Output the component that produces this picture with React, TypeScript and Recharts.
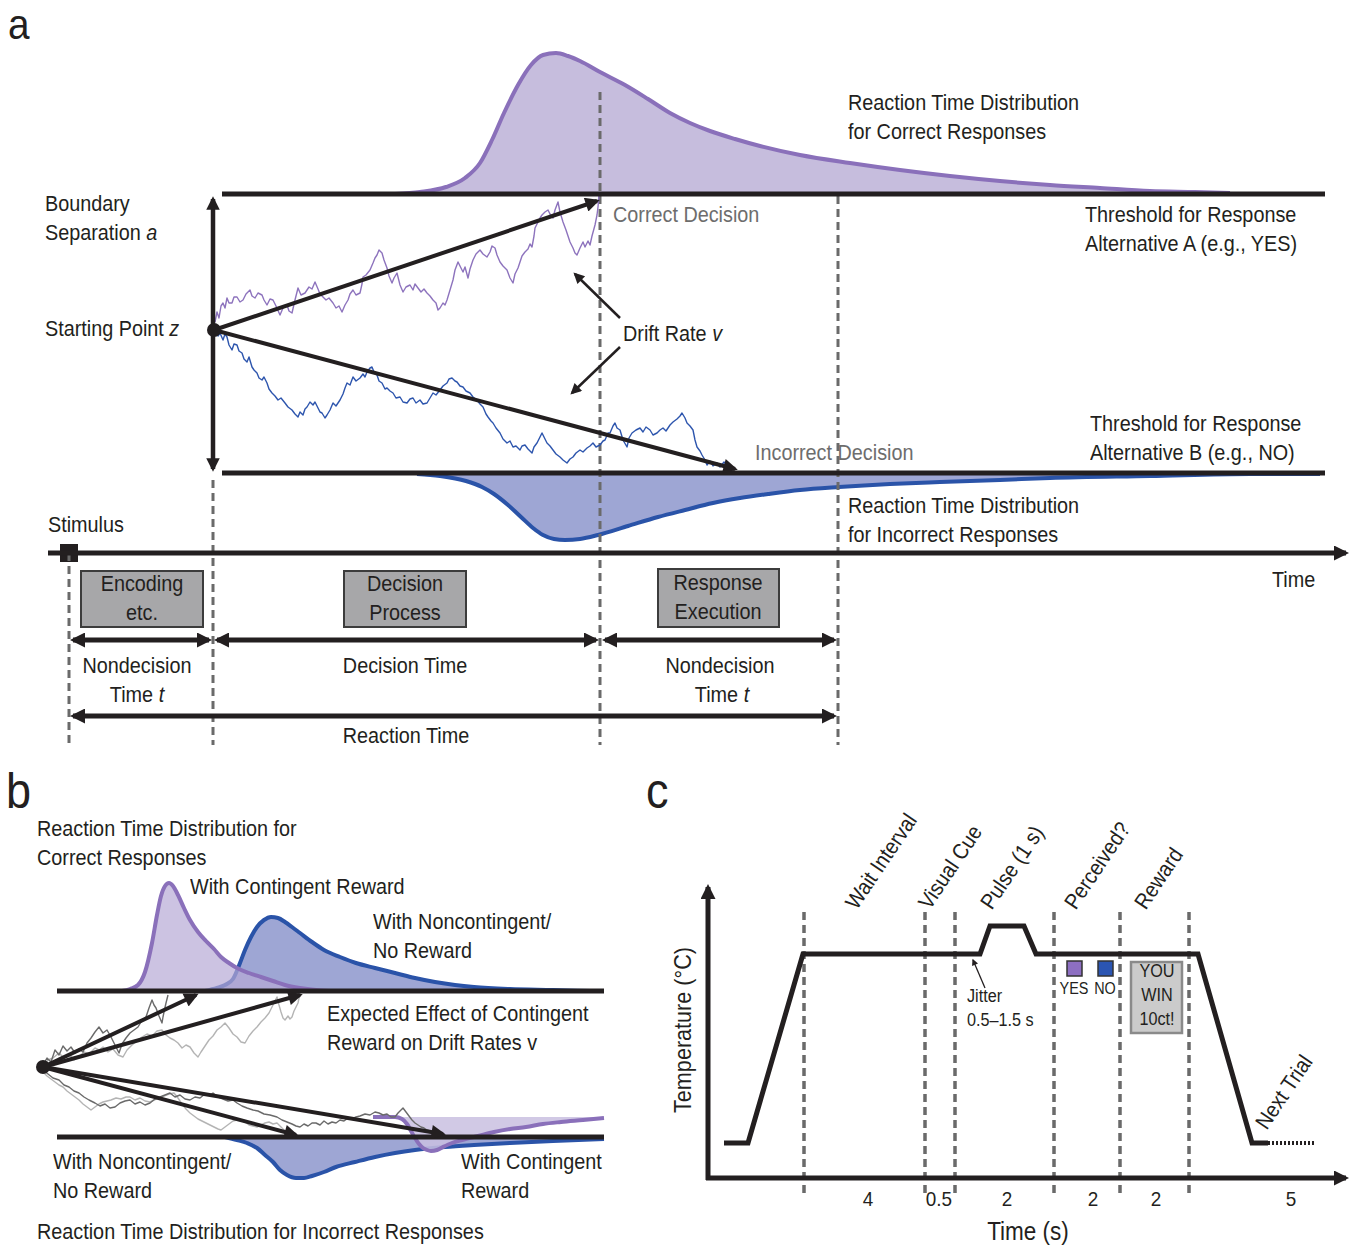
import React from 'react'
import { Area, ComposedChart, Line, ReferenceArea, ReferenceDot, XAxis, YAxis } from 'recharts'

type Pt = { x: number; y: number }
const pts = (rows: number[][]): Pt[] => rows.map(([x, y]) => ({ x, y }))

// ---- panel a: drift diffusion model ----
const upperThresholdA = pts([[222, 194], [1325, 194]])
const lowerThresholdA = pts([[222, 473], [1325, 473]])
const boundaryA = pts([[213, 199], [213, 469]])
const driftUpA = pts([[214, 330], [597, 201]])
const driftDownA = pts([[214, 330], [735, 469]])
const pointerUpA = pts([[620, 318], [575, 274]])
const pointerDownA = pts([[620, 347], [572, 393]])
const timelineA = pts([[48, 553], [1346, 553]])
const phaseLinesA = [
  pts([[69, 553], [69, 745]]),
  pts([[213, 480], [213, 745]]),
  pts([[600, 92], [600, 745]]),
  pts([[838, 196], [838, 745]]),
]
const spansA = [
  pts([[73, 640], [209, 640]]),
  pts([[217, 640], [596, 640]]),
  pts([[605, 640], [834, 640]]),
  pts([[73, 716], [834, 716]]),
]
const stagesA = [
  { x1: 81, x2: 203, y1: 571, y2: 627 },
  { x1: 344, x2: 466, y1: 571, y2: 627 },
  { x1: 658, x2: 779, y1: 569, y2: 627 },
]
const stimulusA = { x1: 60, x2: 78, y1: 544, y2: 562 }
const startA = { x: 214, y: 330 }

const correctRtA = pts([
  [395, 194], [420, 192], [446, 187], [465, 178], [480, 163], [492, 140], [504, 113], [518, 85],
  [531, 65], [543, 55], [556, 53], [568, 56], [580, 61], [600, 72], [625, 85], [648, 99],
  [670, 113], [690, 123], [710, 131], [735, 139], [760, 146], [800, 155], [850, 163], [900, 170],
  [950, 176], [1000, 181], [1050, 185], [1100, 188], [1150, 191], [1195, 192], [1230, 193],
])
const incorrectRtA = pts([
  [417, 474], [440, 476], [466, 481], [482, 487], [494, 494], [508, 505], [521, 517], [533, 528],
  [543, 535], [554, 539], [565, 540], [580, 539], [598, 535], [628, 526], [658, 517], [685, 510],
  [713, 503], [740, 498], [768, 494], [800, 490], [839, 487], [890, 484], [940, 482], [1000, 480],
  [1050, 478], [1150, 476], [1250, 474], [1320, 474],
])

const purpleWalkA = pts([
  [215, 322], [217, 312], [219, 318], [221, 306], [223, 303], [225, 308], [227, 298], [229, 303],
  [232, 303], [234, 297], [237, 297], [240, 302], [243, 300], [246, 294], [250, 290], [252, 296],
  [255, 298], [258, 293], [262, 295], [264, 300], [267, 305], [270, 299], [273, 300], [276, 306],
  [280, 315], [283, 308], [287, 305], [289, 311], [292, 313], [295, 300], [298, 288], [301, 295],
  [305, 293], [309, 287], [312, 289], [315, 282], [318, 289], [320, 294], [323, 297], [326, 300],
  [329, 298], [333, 303], [336, 308], [339, 306], [342, 312], [345, 305], [348, 300], [350, 294],
  [353, 290], [356, 295], [360, 293], [362, 284], [363, 277], [366, 275], [370, 270], [373, 263],
  [375, 258], [377, 255], [379, 250], [382, 253], [384, 260], [387, 268], [389, 276], [392, 283],
  [394, 278], [397, 273], [400, 285], [403, 292], [406, 287], [410, 285], [413, 290], [415, 284],
  [418, 288], [421, 292], [424, 289], [427, 293], [430, 296], [433, 300], [436, 303], [438, 310],
  [440, 308], [443, 303], [445, 305], [447, 300], [450, 290], [453, 280], [455, 270], [458, 262],
  [460, 266], [463, 272], [465, 267], [468, 278], [470, 269], [473, 260], [476, 254], [480, 250],
  [483, 254], [487, 257], [490, 252], [492, 246], [495, 248], [497, 255], [500, 262], [503, 266],
  [507, 270], [510, 278], [513, 283], [515, 274], [518, 268], [520, 262], [522, 256], [525, 252],
  [528, 249], [530, 244], [532, 247], [534, 236], [535, 228], [538, 222], [540, 218], [542, 215],
  [545, 212], [548, 210], [550, 214], [553, 218], [555, 210], [558, 202], [560, 212], [563, 222],
  [566, 230], [568, 236], [570, 242], [573, 248], [575, 253], [577, 255], [580, 248], [583, 242],
  [585, 247], [588, 241], [590, 245], [592, 236], [595, 225], [597, 215], [598, 207], [599, 195],
])
const blueWalkA = pts([
  [213, 337], [216, 331], [218, 336], [220, 333], [223, 340], [225, 334], [227, 337], [229, 345],
  [232, 350], [234, 344], [237, 345], [239, 351], [242, 353], [244, 359], [247, 362], [249, 357],
  [252, 367], [254, 370], [257, 373], [259, 378], [262, 380], [264, 377], [267, 383], [269, 389],
  [272, 393], [275, 396], [278, 400], [281, 398], [285, 403], [288, 407], [292, 410], [295, 414],
  [298, 417], [300, 412], [303, 415], [305, 409], [307, 407], [310, 402], [313, 405], [315, 402],
  [318, 408], [320, 412], [322, 413], [325, 418], [327, 415], [330, 410], [333, 403], [336, 406],
  [340, 400], [343, 394], [345, 388], [347, 383], [350, 385], [353, 377], [356, 381], [360, 378],
  [363, 374], [365, 377], [367, 372], [370, 368], [372, 367], [374, 372], [377, 375], [379, 381],
  [382, 383], [385, 389], [387, 388], [390, 391], [393, 393], [396, 398], [400, 397], [403, 402],
  [407, 403], [410, 399], [413, 398], [416, 403], [420, 400], [423, 404], [427, 403], [430, 398],
  [433, 393], [436, 395], [440, 390], [443, 386], [447, 383], [449, 379], [452, 378], [455, 381],
  [457, 382], [460, 386], [463, 387], [466, 391], [470, 393], [473, 397], [477, 400], [480, 404],
  [483, 407], [486, 414], [488, 417], [491, 421], [493, 423], [496, 428], [500, 433], [503, 439],
  [507, 443], [510, 441], [513, 447], [516, 446], [520, 450], [522, 446], [525, 445], [528, 449],
  [532, 453], [534, 447], [537, 443], [540, 437], [542, 433], [544, 437], [547, 443], [550, 446],
  [553, 450], [556, 454], [560, 457], [563, 460], [567, 463], [570, 459], [573, 457], [576, 453],
  [580, 450], [583, 452], [587, 448], [590, 446], [593, 443], [596, 447], [600, 445], [603, 441],
  [605, 440], [608, 433], [610, 433], [613, 426], [615, 423], [617, 428], [620, 430], [623, 440],
  [627, 447], [629, 438], [632, 433], [636, 430], [640, 428], [643, 432], [646, 427], [650, 430],
  [653, 435], [657, 433], [660, 430], [663, 428], [666, 431], [670, 425], [673, 422], [677, 419],
  [680, 416], [682, 413], [685, 418], [687, 423], [690, 426], [693, 430], [695, 440], [697, 447],
  [700, 451], [702, 455], [705, 460], [707, 465], [710, 461], [713, 466], [717, 463], [720, 467],
  [724, 462], [727, 465], [730, 468], [733, 470],
])

// ---- panel b: expected effect of contingent reward ----
const upperThresholdB = pts([[57, 991], [604, 991]])
const lowerThresholdB = pts([[57, 1137], [604, 1137]])
const startB = { x: 43, y: 1067 }
const driftsB = [
  pts([[43, 1067], [196, 995]]),
  pts([[43, 1067], [300, 995]]),
  pts([[43, 1067], [296, 1135]]),
  pts([[43, 1067], [443, 1134]]),
]
const contingentCorrectB = pts([
  [122, 991], [130, 989], [138, 985], [145, 972], [152, 943], [157, 915], [161, 896], [165, 886],
  [169, 883], [173, 886], [178, 895], [184, 908], [190, 920], [198, 932], [206, 941], [214, 949],
  [221, 957], [229, 963], [237, 968], [249, 973], [261, 977], [273, 981], [285, 985], [300, 988],
  [316, 990], [330, 991],
])
const noncontingentCorrectB = pts([
  [205, 991], [217, 988], [225, 985], [233, 979], [240, 963], [245, 950], [251, 937], [257, 927],
  [264, 920], [271, 917], [278, 918], [285, 922], [292, 927], [300, 933], [312, 942], [324, 950],
  [340, 957], [356, 963], [375, 968], [395, 973], [415, 978], [435, 982], [455, 985], [474, 987],
  [510, 989], [553, 990], [590, 991],
])
const noncontingentErrorB = pts([
  [225, 1137], [237, 1140], [247, 1143], [257, 1148], [265, 1155], [273, 1162], [280, 1170],
  [287, 1175], [296, 1178], [304, 1178], [312, 1176], [324, 1172], [336, 1167], [355, 1162],
  [375, 1157], [395, 1153], [415, 1150], [445, 1147], [474, 1145], [510, 1143], [553, 1141],
  [604, 1139],
])
const contingentErrorB = pts([
  [373, 1117], [385, 1117], [395, 1117], [402, 1119], [407, 1124], [411, 1131], [415, 1138],
  [419, 1144], [423, 1148], [427, 1150], [431, 1151], [437, 1150], [443, 1147], [452, 1143],
  [462, 1140], [478, 1136], [494, 1132], [510, 1129], [526, 1127], [543, 1124], [561, 1122],
  [583, 1120], [604, 1118],
])
const darkUpWalkB = pts([
  [43, 1065], [47, 1058], [51, 1062], [55, 1050], [59, 1055], [63, 1046], [67, 1051], [71, 1047],
  [75, 1053], [79, 1049], [83, 1052], [87, 1043], [91, 1038], [95, 1032], [99, 1027], [103, 1033],
  [107, 1030], [111, 1037], [115, 1045], [119, 1053], [122, 1044], [126, 1038], [130, 1033],
  [134, 1030], [138, 1027], [141, 1022], [144, 1019], [146, 1017], [149, 1008], [152, 1000],
  [154, 1005], [156, 1008], [159, 1016], [162, 1023], [163, 1017], [164, 1012], [166, 1003],
  [168, 995],
])
const lightUpWalkB = pts([
  [43, 1067], [48, 1060], [53, 1058], [59, 1053], [64, 1058], [69, 1054], [74, 1060], [79, 1057],
  [84, 1052], [89, 1054], [95, 1048], [99, 1050], [103, 1047], [108, 1052], [113, 1049], [118, 1055],
  [123, 1057], [127, 1050], [132, 1045], [137, 1041], [142, 1037], [147, 1034], [152, 1036],
  [157, 1031], [162, 1030], [166, 1035], [170, 1038], [174, 1040], [178, 1043], [182, 1048],
  [186, 1045], [190, 1047], [194, 1053], [198, 1057], [201, 1052], [205, 1046], [209, 1040],
  [213, 1036], [217, 1030], [221, 1027], [225, 1023], [229, 1028], [233, 1034], [237, 1037],
  [241, 1042], [245, 1043], [249, 1036], [253, 1031], [257, 1027], [261, 1022], [265, 1018],
  [269, 1013], [272, 1007], [275, 1001], [277, 997], [279, 1005], [281, 1012], [283, 1018],
  [285, 1020], [288, 1016], [290, 1019], [292, 1017], [294, 1011], [296, 1007], [298, 1003],
  [299, 998], [300, 993],
])
const darkDownWalkB = pts([
  [43, 1070], [48, 1074], [53, 1078], [59, 1080], [64, 1085], [69, 1087], [74, 1091], [79, 1093],
  [84, 1097], [89, 1100], [95, 1103], [100, 1106], [105, 1104], [110, 1108], [115, 1107],
  [120, 1103], [125, 1101], [130, 1100], [135, 1104], [140, 1102], [145, 1105], [150, 1103],
  [155, 1099], [160, 1097], [165, 1095], [170, 1093], [175, 1097], [180, 1095], [185, 1099],
  [190, 1100], [195, 1097], [200, 1098], [205, 1094], [210, 1095], [213, 1093], [218, 1097],
  [223, 1099], [228, 1101], [233, 1100], [237, 1103], [242, 1106], [247, 1108], [253, 1110],
  [258, 1111], [264, 1114], [270, 1115], [277, 1117], [282, 1120], [287, 1122], [292, 1124],
  [296, 1126], [300, 1127], [304, 1124], [308, 1126], [312, 1123], [316, 1123], [320, 1125],
  [324, 1121], [328, 1124], [332, 1122], [336, 1123], [340, 1120], [344, 1121], [348, 1118],
  [352, 1119], [356, 1117], [360, 1116], [365, 1114], [370, 1115], [375, 1112], [379, 1113],
  [383, 1115], [387, 1114], [391, 1117], [395, 1117], [398, 1113], [401, 1110], [403, 1108],
  [406, 1112], [409, 1116], [412, 1120], [415, 1123], [418, 1125], [421, 1127], [424, 1128],
  [427, 1130], [430, 1131], [433, 1133], [436, 1134], [439, 1135],
])
const lightDownWalkB = pts([
  [43, 1072], [47, 1076], [51, 1079], [55, 1082], [59, 1085], [63, 1087], [67, 1091], [71, 1094],
  [75, 1097], [79, 1100], [83, 1104], [87, 1107], [91, 1110], [95, 1107], [99, 1104], [103, 1102],
  [107, 1101], [111, 1100], [116, 1098], [121, 1099], [126, 1097], [130, 1097], [135, 1100],
  [140, 1098], [145, 1101], [150, 1102], [154, 1100], [159, 1098], [164, 1096], [169, 1094],
  [174, 1093], [178, 1098], [182, 1104], [186, 1109], [190, 1113], [194, 1116], [198, 1119],
  [202, 1121], [206, 1123], [210, 1125], [214, 1127], [218, 1129], [221, 1130], [225, 1127],
  [229, 1124], [233, 1121], [237, 1120], [241, 1120], [245, 1122], [249, 1125], [253, 1126],
  [257, 1127], [261, 1125], [265, 1123], [269, 1122], [273, 1124], [277, 1123], [280, 1126],
  [283, 1129], [286, 1132], [289, 1135], [292, 1137],
])

// ---- panel c: trial timeline ----
const axisYC = pts([[708, 1180], [708, 887]])
const axisXC = pts([[706, 1178], [1346, 1178]])
const temperatureC = pts([
  [724, 1143], [748, 1143], [803, 954], [980, 954], [990, 926], [1024, 926], [1036, 954],
  [1198, 954], [1252, 1143], [1268, 1143],
])
const nextTrialC = pts([[1268, 1143], [1316, 1143]])
const phaseEdgesC = [804, 925, 955, 1054, 1120, 1189]
const jitterC = pts([[985, 988], [973, 960]])
const yesKeyC = { x1: 1067, x2: 1082, y1: 961, y2: 976 }
const noKeyC = { x1: 1098, x2: 1113, y1: 961, y2: 976 }
const rewardBoxC = { x1: 1131, x2: 1182, y1: 962, y2: 1033 }
const durationLabels = ['4', '0.5', '2', '2', '2', '5']
const durationAt = [868, 939, 1007, 1093, 1156, 1291]
const phaseLabels = ['Wait Interval', 'Visual Cue', 'Pulse (1 s)', 'Perceived?', 'Reward']
const phaseLabelAt = [862, 935, 997, 1081, 1151]

const INK = '#231f20'
const PURPLE = '#8a70ba'
const PURPLE_FILL = '#c6bddd'
const BLUE = '#2a53a8'
const BLUE_FILL = '#9ea6d4'
const DASH = '#6a6a6a'
const FONT = "'Liberation Sans',Arial,Helvetica,sans-serif"
const SX = 0.9 // the figure uses a condensed grotesque

function Txt({
  x, y, size = 22, center = false, color = INK, children,
}: {
  x: number; y: number; size?: number; center?: boolean; color?: string
  children: React.ReactNode
}) {
  return (
    <div
      style={{
        position: 'absolute', left: x, top: y - size * 0.6, fontSize: size,
        lineHeight: `${size * 1.2}px`, color, fontFamily: FONT, whiteSpace: 'nowrap',
        transformOrigin: center ? '50% 50%' : '0 50%',
        transform: center ? `translateX(-50%) scaleX(${SX})` : `scaleX(${SX})`,
      }}
    >
      {children}
    </div>
  )
}

function Tilt({ x, y, size = 22, children }: { x: number; y: number; size?: number; children: React.ReactNode }) {
  return (
    <div
      style={{
        position: 'absolute', left: x, top: y - size * 1.2, fontSize: size,
        lineHeight: `${size * 1.2}px`, color: INK, fontFamily: FONT, whiteSpace: 'nowrap',
        transformOrigin: '0 100%', transform: `rotate(-56deg) scaleX(${SX})`,
      }}
    >
      {children}
    </div>
  )
}

function PanelLetter({ x, top, size = 50, children }: { x: number; top: number; size?: number; children: React.ReactNode }) {
  return (
    <div
      style={{
        position: 'absolute', left: x, top, fontSize: size, lineHeight: '40px', color: INK,
        fontFamily: FONT, transformOrigin: '0 50%', transform: `scaleX(${SX})`,
      }}
    >
      {children}
    </div>
  )
}

const I = ({ children }: { children: React.ReactNode }) => <i>{children}</i>

export default function App() {
  const seg = (key: string, data: Pt[], width: number, extra: Record<string, unknown> = {}) => (
    <Line
      key={key}
      data={data}
      dataKey="y"
      type="linear"
      stroke={INK}
      strokeWidth={width}
      dot={false}
      activeDot={false}
      isAnimationActive={false}
      legendType="none"
      {...extra}
    />
  )
  const walk = (key: string, data: Pt[], color: string) =>
    seg(key, data, 1.4, { stroke: color, strokeLinejoin: 'round' })
  const dist = (key: string, data: Pt[], base: number, fill: string, stroke: string, fillOpacity = 1) => (
    <Area
      key={key}
      data={data}
      dataKey="y"
      type="monotone"
      baseValue={base}
      fill={fill}
      fillOpacity={fillOpacity}
      stroke={stroke}
      strokeWidth={4}
      dot={false}
      activeDot={false}
      isAnimationActive={false}
      legendType="none"
    />
  )
  const dashed = (key: string, data: Pt[], w = 3) =>
    seg(key, data, w, { stroke: DASH, strokeDasharray: '8 5' })

  return (
    <div style={{ position: 'relative', width: 1351, height: 1245, background: '#fff', overflow: 'hidden' }}>
      <style>{'body{margin:0}'}</style>
      <svg width={0} height={0} style={{ position: 'absolute' }}>
        <defs>
          <marker id="head" viewBox="0 0 10 10" refX="8" refY="5" markerWidth="3.6" markerHeight="3"
            orient="auto-start-reverse">
            <path d="M0,0 L10,5 L0,10 z" fill={INK} />
          </marker>
          <marker id="headDrift" viewBox="0 0 10 10" refX="8" refY="5" markerWidth="5.5" markerHeight="3.6"
            orient="auto-start-reverse">
            <path d="M0,0 L10,5 L0,10 z" fill={INK} />
          </marker>
          <marker id="headThin" viewBox="0 0 10 10" refX="8" refY="5" markerWidth="6" markerHeight="4.4"
            orient="auto-start-reverse">
            <path d="M0,0 L10,5 L0,10 z" fill={INK} />
          </marker>
          <marker id="headHair" viewBox="0 0 10 10" refX="8" refY="5" markerWidth="7" markerHeight="5"
            orient="auto-start-reverse">
            <path d="M0,0 L10,5 L0,10 z" fill={INK} />
          </marker>
        </defs>
      </svg>

      <ComposedChart
        width={1351}
        height={1245}
        margin={{ top: 0, right: 0, bottom: 0, left: 0 }}
        style={{ position: 'absolute', left: 0, top: 0 }}
      >
        <XAxis type="number" dataKey="x" domain={[0, 1351]} hide allowDataOverflow />
        <YAxis type="number" dataKey="y" domain={[0, 1245]} reversed hide allowDataOverflow />

        {/* panel a */}
        {dist('correctA', correctRtA, 194, PURPLE_FILL, PURPLE)}
        {dist('incorrectA', incorrectRtA, 473, BLUE_FILL, BLUE)}
        {phaseLinesA.map((d, i) => dashed(`phaseA${i}`, d))}
        {walk('purpleA', purpleWalkA, '#8d73bd')}
        {walk('blueA', blueWalkA, '#2d55ad')}
        {seg('upperA', upperThresholdA, 5)}
        {seg('lowerA', lowerThresholdA, 5)}
        {seg('boundA', boundaryA, 4.5, { markerStart: 'url(#head)', markerEnd: 'url(#head)' })}
        {seg('driftUpA', driftUpA, 4, { markerEnd: 'url(#headDrift)' })}
        {seg('driftDownA', driftDownA, 4, { markerEnd: 'url(#headDrift)' })}
        {seg('ptrUpA', pointerUpA, 2.5, { markerEnd: 'url(#headThin)' })}
        {seg('ptrDownA', pointerDownA, 2.5, { markerEnd: 'url(#headThin)' })}
        {seg('timeA', timelineA, 5, { markerEnd: 'url(#head)' })}
        {spansA.map((d, i) =>
          seg(`spanA${i}`, d, 5, { markerStart: 'url(#head)', markerEnd: 'url(#head)' }),
        )}
        {stagesA.map((b, i) => (
          <ReferenceArea key={`stage${i}`} {...b} fill="#a7a7a9" fillOpacity={1} stroke="#3c3c3c" strokeWidth={2} ifOverflow="visible" />
        ))}
        <ReferenceArea {...stimulusA} fill={INK} fillOpacity={1} stroke="none" ifOverflow="visible" />
        <ReferenceDot {...startA} r={7} fill={INK} stroke="none" ifOverflow="visible" />

        {/* panel b */}
        {dist('ncCorrectB', noncontingentCorrectB, 991, BLUE_FILL, BLUE)}
        {dist('cCorrectB', contingentCorrectB, 991, '#b7aad6', PURPLE, 0.7)}
        {dist('ncErrorB', noncontingentErrorB, 1137, BLUE_FILL, BLUE)}
        {dist('cErrorB', contingentErrorB, 1117, '#c9c0e0', PURPLE, 0.85)}
        {walk('lightUpB', lightUpWalkB, '#b4b4b4')}
        {walk('lightDownB', lightDownWalkB, '#b4b4b4')}
        {walk('darkUpB', darkUpWalkB, '#6a6a6a')}
        {walk('darkDownB', darkDownWalkB, '#6a6a6a')}
        {seg('upperB', upperThresholdB, 5)}
        {seg('lowerB', lowerThresholdB, 5)}
        {driftsB.map((d, i) => seg(`driftB${i}`, d, 4, { markerEnd: 'url(#headDrift)' }))}
        <ReferenceDot {...startB} r={7} fill={INK} stroke="none" ifOverflow="visible" />

        {/* panel c */}
        {phaseEdgesC.map((x) => dashed(`edge${x}`, pts([[x, 912], [x, 1195]]), 3.5))}
        {seg('axisY', axisYC, 5, { markerEnd: 'url(#head)' })}
        {seg('axisX', axisXC, 5, { markerEnd: 'url(#head)' })}
        {seg('temp', temperatureC, 5, { strokeLinejoin: 'miter' })}
        {seg('next', nextTrialC, 4, { strokeDasharray: '2 2' })}
        {seg('jitter', jitterC, 1.3, { markerEnd: 'url(#headHair)' })}
        <ReferenceArea {...yesKeyC} fill="#8d6fc2" fillOpacity={1} stroke="#333" strokeWidth={1.5} ifOverflow="visible" />
        <ReferenceArea {...noKeyC} fill="#2b55b2" fillOpacity={1} stroke="#333" strokeWidth={1.5} ifOverflow="visible" />
        <ReferenceArea {...rewardBoxC} fill="#cbcbcb" fillOpacity={1} stroke="#8a8a8a" strokeWidth={2.5} ifOverflow="visible" />
      </ComposedChart>

      {/* panel a text */}
      <PanelLetter x={8} top={4} size={43}>a</PanelLetter>
      <Txt x={848} y={103}>Reaction Time Distribution</Txt>
      <Txt x={848} y={132}>for Correct Responses</Txt>
      <Txt x={45} y={204}>Boundary</Txt>
      <Txt x={45} y={233}>Separation <I>a</I></Txt>
      <Txt x={613} y={215} color="#6d6d6d">Correct Decision</Txt>
      <Txt x={1085} y={215}>Threshold for Response</Txt>
      <Txt x={1085} y={244}>Alternative A (e.g., YES)</Txt>
      <Txt x={45} y={329}>Starting Point <I>z</I></Txt>
      <Txt x={623} y={334}>Drift Rate <I>v</I></Txt>
      <Txt x={1090} y={424}>Threshold for Response</Txt>
      <Txt x={1090} y={453}>Alternative B (e.g., NO)</Txt>
      <Txt x={755} y={453} color="#6d6d6d">Incorrect Decision</Txt>
      <Txt x={848} y={506}>Reaction Time Distribution</Txt>
      <Txt x={848} y={535}>for Incorrect Responses</Txt>
      <Txt x={48} y={525}>Stimulus</Txt>
      <Txt x={1272} y={580}>Time</Txt>
      <Txt x={142} y={584} center>Encoding</Txt>
      <Txt x={142} y={613} center>etc.</Txt>
      <Txt x={405} y={584} center>Decision</Txt>
      <Txt x={405} y={613} center>Process</Txt>
      <Txt x={718} y={583} center>Response</Txt>
      <Txt x={718} y={612} center>Execution</Txt>
      <Txt x={137} y={666} center>Nondecision</Txt>
      <Txt x={137} y={695} center>Time <I>t</I></Txt>
      <Txt x={405} y={666} center>Decision Time</Txt>
      <Txt x={720} y={666} center>Nondecision</Txt>
      <Txt x={722} y={695} center>Time <I>t</I></Txt>
      <Txt x={406} y={736} center>Reaction Time</Txt>

      {/* panel b text */}
      <PanelLetter x={6} top={771}>b</PanelLetter>
      <Txt x={37} y={829}>Reaction Time Distribution for</Txt>
      <Txt x={37} y={858}>Correct Responses</Txt>
      <Txt x={190} y={887}>With Contingent Reward</Txt>
      <Txt x={373} y={922}>With Noncontingent/</Txt>
      <Txt x={373} y={951}>No Reward</Txt>
      <Txt x={327} y={1014}>Expected Effect of Contingent</Txt>
      <Txt x={327} y={1043}>Reward on Drift Rates v</Txt>
      <Txt x={53} y={1162}>With Noncontingent/</Txt>
      <Txt x={53} y={1191}>No Reward</Txt>
      <Txt x={461} y={1162}>With Contingent</Txt>
      <Txt x={461} y={1191}>Reward</Txt>
      <Txt x={37} y={1232}>Reaction Time Distribution for Incorrect Responses</Txt>

      {/* panel c text */}
      <PanelLetter x={646} top={771}>c</PanelLetter>
      {phaseLabels.map((s, i) => (
        <Tilt key={s} x={phaseLabelAt[i]} y={914}>{s}</Tilt>
      ))}
      <Tilt x={1272} y={1134}>Next Trial</Tilt>
      <Txt x={967} y={997} size={18}>Jitter</Txt>
      <Txt x={967} y={1021} size={18}>0.5–1.5 s</Txt>
      <Txt x={1074} y={989} size={16} center>YES</Txt>
      <Txt x={1105} y={989} size={16} center>NO</Txt>
      <Txt x={1157} y={972} size={18} center>YOU</Txt>
      <Txt x={1157} y={996} size={18} center>WIN</Txt>
      <Txt x={1157} y={1020} size={18} center>10ct!</Txt>
      {durationLabels.map((s, i) => (
        <Txt key={i} x={durationAt[i]} y={1199} size={21} center>{s}</Txt>
      ))}
      <Txt x={1028} y={1231} size={25} center>Time (s)</Txt>
      <div
        style={{
          position: 'absolute', left: 683, top: 1030, fontSize: 24, fontFamily: FONT, color: INK,
          whiteSpace: 'nowrap', transform: `translate(-50%, -50%) rotate(-90deg) scaleX(${SX})`,
        }}
      >
        Temperature (°C)
      </div>
    </div>
  )
}
